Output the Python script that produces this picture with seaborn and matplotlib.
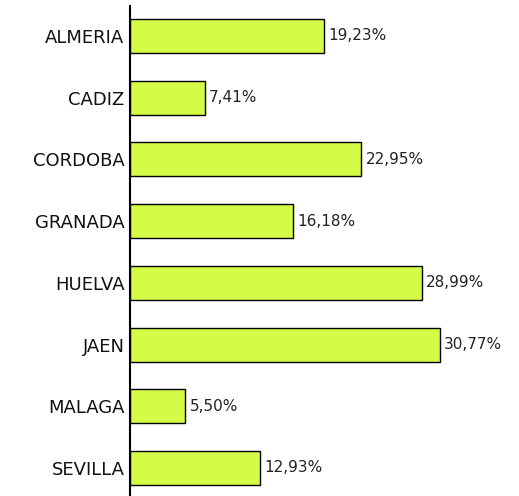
import pandas as pd
import matplotlib
matplotlib.use('Agg')
import matplotlib.pyplot as plt
import seaborn as sns

# Data
provincias = ['ALMERIA', 'CADIZ', 'CORDOBA', 'GRANADA', 'HUELVA', 'JAEN', 'MALAGA', 'SEVILLA']
porcentajes = [19.23, 7.41, 22.95, 16.18, 28.99, 30.77, 5.50, 12.93]

df = pd.DataFrame({'provincia': provincias, 'pct': porcentajes})

sns.set_style('white')
plt.rcParams['font.family'] = ['DejaVu Sans']

fig = plt.figure(figsize=(5.19, 4.96), dpi=100)
ax = fig.add_axes([130 / 519, 0, 1 - 130 / 519, 490 / 496])

sns.barplot(data=df, x='pct', y='provincia', orient='h', color='#d4fc46',
            edgecolor='black', linewidth=1, width=0.55, saturation=1, ax=ax)

labels = [f'{v:.2f}%'.replace('.', ',') for v in porcentajes]
ax.bar_label(ax.containers[0], labels=labels, padding=3, fontsize=11, color='#222222')

ax.set_xlim(0, 38.6)
ax.set_ylim(7.454, -0.486)
ax.set_xlabel('')
ax.set_ylabel('')
ax.set_xticks([])
ax.tick_params(axis='y', length=0, labelsize=13, pad=4, labelcolor='#111111')
for s in ['top', 'right', 'bottom']:
    ax.spines[s].set_visible(False)
ax.spines['left'].set_color('black')
ax.spines['left'].set_linewidth(1.5)

fig.savefig('out.png', dpi=100)
